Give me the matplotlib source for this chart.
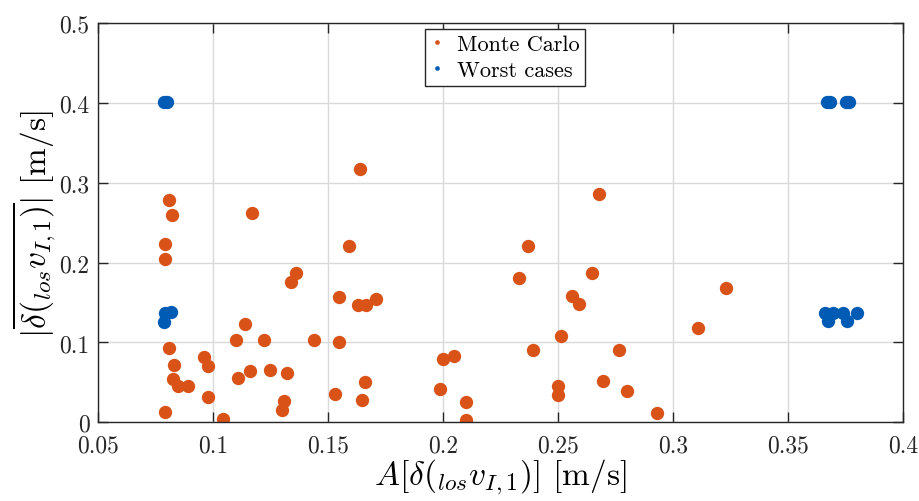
import numpy as np
import matplotlib.pyplot as plt

plt.rcParams['font.family'] = 'serif'
plt.rcParams['font.serif'] = ['cmr10']
plt.rcParams['mathtext.fontset'] = 'cm'
plt.rcParams['axes.formatter.use_mathtext'] = True

# Monte Carlo samples
mc_x = [0.164, 0.081, 0.082, 0.117, 0.079, 0.159, 0.079, 0.134, 0.136, 0.155,
        0.163, 0.1665, 0.171, 0.114, 0.110, 0.122, 0.144, 0.155, 0.081, 0.096,
        0.098, 0.083, 0.0825, 0.085, 0.089, 0.111, 0.116, 0.125, 0.132, 0.098,
        0.079, 0.1045, 0.131, 0.130, 0.153, 0.165, 0.166, 0.1985, 0.200, 0.205,
        0.237, 0.233, 0.265, 0.256, 0.259, 0.323, 0.311, 0.2515, 0.239, 0.2765,
        0.2695, 0.250, 0.250, 0.280, 0.293, 0.210, 0.210, 0.268]
mc_y = [0.318, 0.279, 0.260, 0.262, 0.223, 0.221, 0.205, 0.176, 0.187, 0.157,
        0.147, 0.147, 0.154, 0.123, 0.103, 0.103, 0.103, 0.101, 0.093, 0.082,
        0.071, 0.072, 0.054, 0.046, 0.045, 0.055, 0.064, 0.066, 0.062, 0.032,
        0.013, 0.004, 0.027, 0.015, 0.035, 0.028, 0.050, 0.042, 0.079, 0.083,
        0.221, 0.181, 0.187, 0.158, 0.148, 0.168, 0.118, 0.108, 0.091, 0.090,
        0.052, 0.046, 0.034, 0.039, 0.012, 0.025, 0.003, 0.286]

# worst cases
wc_x = [0.0788, 0.0798, 0.0787, 0.0791, 0.0816,
        0.3668, 0.3682, 0.3752, 0.3766,
        0.366, 0.3697, 0.374, 0.3798, 0.3675, 0.3755]
wc_y = [0.401, 0.401, 0.126, 0.137, 0.138,
        0.401, 0.401, 0.401, 0.401,
        0.137, 0.137, 0.137, 0.137, 0.127, 0.127]

xticks = [0.05, 0.1, 0.15, 0.2, 0.25, 0.3, 0.35, 0.4]
xlabels = ['0.05', '0.1', '0.15', '0.2', '0.25', '0.3', '0.35', '0.4']
yticks = [0, 0.1, 0.2, 0.3, 0.4, 0.5]
ylabels = ['0', '0.1', '0.2', '0.3', '0.4', '0.5']

orange = '#D95319'
blue = '#005BB5'

fig = plt.figure(figsize=(9.19, 5.02), dpi=100)
ax = fig.add_axes([0.1066, 0.1568, 0.876, 0.7948])

ax.plot(mc_x, mc_y, 'o', color=orange, markersize=9.6, markeredgewidth=0,
        label='Monte Carlo')
ax.plot(wc_x, wc_y, 'o', color=blue, markersize=9.6, markeredgewidth=0,
        label='Worst cases')

ax.set_xlim(0.05, 0.4)
ax.set_ylim(0, 0.5)
ax.set_xticks(xticks)
ax.set_xticklabels(xlabels)
ax.set_yticks(yticks)
ax.set_yticklabels(ylabels)
ax.tick_params(direction='in', length=7, width=1, top=True, right=True,
               labelsize=17, colors='#262626')
ax.tick_params(axis='x', pad=9)
ax.tick_params(axis='y', pad=6)
ax.grid(True, color='#d9d9d9', linewidth=1)
ax.set_axisbelow(True)
for s in ax.spines.values():
    s.set_color('#262626')
    s.set_linewidth(1)

ax.set_xlabel(r'$A[\delta({}_{los}v_{I,1})]$ [m/s]', fontsize=24, labelpad=0)
ax.set_ylabel(r'$|\overline{\delta({}_{los}v_{I,1})}|$ [m/s]', fontsize=24,
              labelpad=1)

leg = ax.legend(loc='upper left', bbox_to_anchor=(0.406, 0.986),
                borderaxespad=0, fontsize=16, markerscale=0.35,
                handlelength=0.6, handletextpad=0.6, labelspacing=0.3,
                borderpad=0.25, fancybox=False, framealpha=1)
leg.get_frame().set_edgecolor('#262626')
leg.get_frame().set_linewidth(1)

fig.savefig('out.png', dpi=100)
